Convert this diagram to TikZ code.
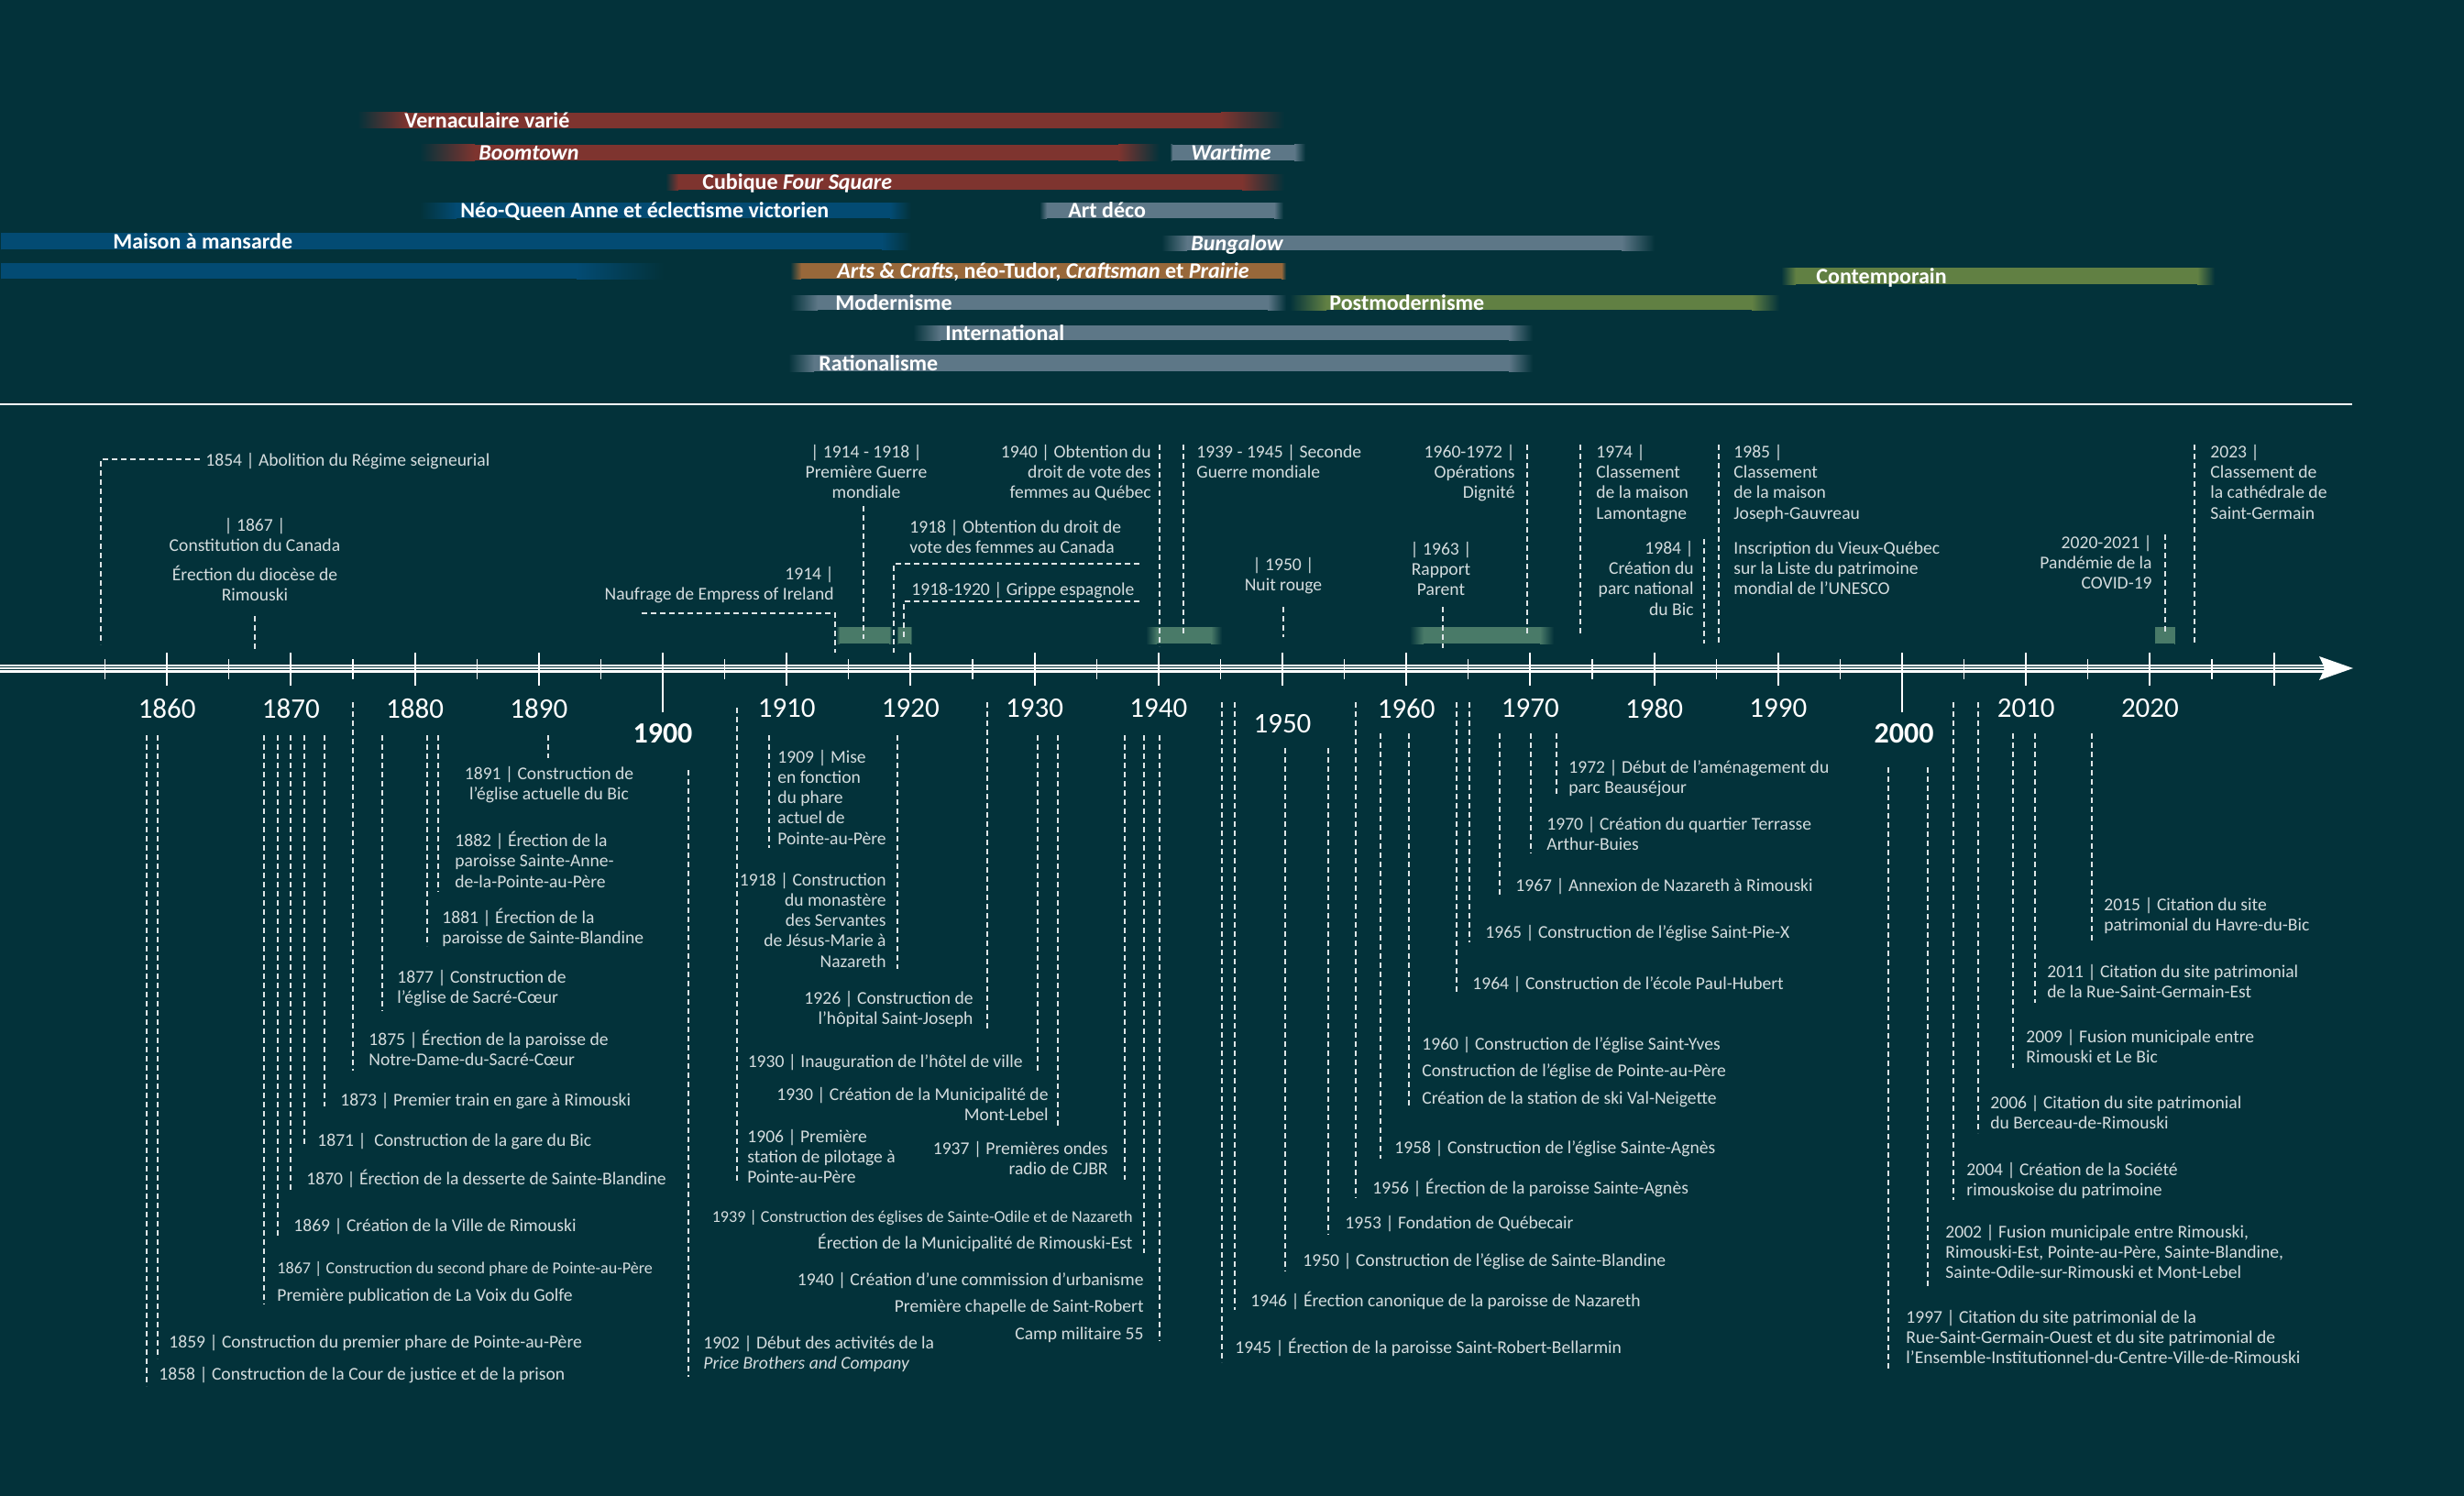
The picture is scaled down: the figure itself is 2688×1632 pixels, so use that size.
\documentclass[tikz,border=0pt]{standalone}
\usepackage{fontspec}
\setmainfont{Carlito}
\definecolor{bg}{RGB}{3,50,58}
\definecolor{barred}{RGB}{126,52,47}
\definecolor{barblue}{RGB}{3,75,115}
\definecolor{bargray}{RGB}{93,119,135}
\definecolor{barorange}{RGB}{152,104,58}
\definecolor{bargreen}{RGB}{97,128,67}
\definecolor{boxgreen}{RGB}{73,122,104}
\definecolor{txt}{RGB}{212,220,222}
\definecolor{lin}{RGB}{222,230,231}
\newcommand\evfont{\fontsize{9.8}{11.1}\selectfont}
\newcommand\evsmall{\fontsize{9.05}{11.1}\selectfont}
% bar: x1 x2 ytop ybot colour fadeL fadeR
\newcommand\tlbar[7]{%
  \fill[#5] (#1+#6-0.5,#3) rectangle (#2-#7+0.5,#4);
  \shade[left color=bg,right color=#5] (#1,#3) rectangle (#1+#6,#4);
  \shade[left color=#5,right color=bg] (#2-#7,#3) rectangle (#2,#4);}
\newcommand\ld[3]{\draw[dl] (#1,#2) -- (#1,#3);}
\begin{document}
\begin{tikzpicture}[x=0.5pt,y=-0.5pt,
  ev/.style={text=txt, inner sep=0pt, yshift=-1.5pt, font=\evfont, execute at begin node=\strut, execute at end node=\strut},
  evl/.style={ev, anchor=west, align=left},
  evr/.style={ev, anchor=east, align=right},
  evc/.style={ev, anchor=center, align=center},
  dl/.style={draw=lin, line width=0.6pt, dash pattern=on 3pt off 2pt},
  blab/.style={text=white, inner sep=0pt, anchor=base west, font=\fontsize{12}{14}\selectfont\bfseries},
  yr/.style={text=white, inner sep=0pt, anchor=center, font=\fontsize{15.5}{18}\selectfont},
  yrb/.style={text=white, inner sep=0pt, anchor=center, font=\fontsize{16}{18}\selectfont\bfseries}]
\useasboundingbox (0,0) rectangle (2688,1632);
\fill[bg] (0,0) rectangle (2688,1632);

% ---------- style bars ----------
\tlbar{390}{1401}{123}{140}{barred}{54}{69}
\node[blab] (bVern) at (441,139.5) {Vernaculaire varié};
\tlbar{458}{1265}{158}{175}{barred}{60}{45}
\node[blab] (bBoom) at (522,174.5) {\itshape Boomtown};
\tlbar{1276}{1424}{158}{175}{bargray}{3}{12}
\node[blab] (bWar) at (1299,174.5) {\itshape Wartime};
\tlbar{726}{1401}{190}{207}{barred}{14}{46}
\node[blab] (bCub) at (766,206.5) {Cubique \itshape Four Square};
\tlbar{458}{994}{221}{238}{barblue}{40}{23}
\node[blab] (bNeo) at (502,237.5) {Néo-Queen Anne et éclectisme victorien};
\tlbar{1134}{1400}{221}{238}{bargray}{8}{10}
\node[blab] (bDeco) at (1165,237.5) {Art déco};
\tlbar{0}{994}{254}{272}{barblue}{1}{32}
\node[blab] (bMais) at (123,271) {Maison à mansarde};
\tlbar{1267}{1805}{257}{273}{bargray}{28}{36}
\node[blab] (bBung) at (1299,273) {\itshape Bungalow};
\tlbar{0}{724}{287}{304}{barblue}{1}{95}
\tlbar{862}{1403}{287}{304}{barorange}{12}{5}
\node[blab] (bArts) at (913,303.5) {\itshape Arts \& Crafts\upshape, néo-Tudor, \itshape Craftsman\upshape{} et \itshape Prairie};
\tlbar{1943}{2416}{292}{310}{bargreen}{16}{19}
\node[blab] (bCont) at (1981,309) {Contemporain};
\tlbar{862}{1403}{322}{338}{bargray}{30}{20}
\node[blab] (bMod) at (911,338) {Modernisme};
\tlbar{1407}{1941}{322}{338}{bargreen}{40}{30}
\node[blab] (bPost) at (1450,338) {Postmodernisme};
\tlbar{996}{1672}{355}{371}{bargray}{30}{26}
\node[blab] (bInt) at (1031,371) {International};
\tlbar{860}{1672}{387}{405}{bargray}{28}{26}
\node[blab] (bRat) at (893,404) {Rationalisme};

% separator
\draw[white, line width=0.9pt] (0,441) -- (2566,441);

% ---------- period boxes ----------
\tlbar{912}{973}{684}{702}{boxgreen}{4}{3}
\tlbar{978}{995}{684}{702}{boxgreen}{2}{2}
\tlbar{1250}{1333}{684}{702}{boxgreen}{12}{12}
\tlbar{1538}{1695}{684}{702}{boxgreen}{15}{15}
\tlbar{2350}{2373}{684}{702}{boxgreen}{1}{1}

% ---------- events above ----------
\node[evl] (u1854) at (224,501) {1854 | Abolition du Régime seigneurial};
\draw[dl] (218,501) -- (110,501) -- (110,703);
\node[evc] (u1867a) at (278,584) {| 1867 |\\Constitution du Canada};
\node[evc] (u1867b) at (278,637) {Érection du diocèse de\\Rimouski};
\draw[dl] (278,672) -- (278,711);
\node[evc] (u1914) at (945,514.5) {| 1914 - 1918 |\\Première Guerre\\mondiale};
\draw[dl] (942,552) -- (942,697);
\node[evr] (u1914b) at (910,637) {1914 |\\Naufrage de Empress of Ireland};
\draw[dl] (700,669) -- (911,669) -- (911,712);
\node[evl] (u1918) at (992,586) {1918 | Obtention du droit de\\vote des femmes au Canada};
\draw[dl] (1243,615) -- (975,615) -- (975,712);
\node[evl] (u1918g) at (994,642) {1918-1920 | Grippe espagnole};
\draw[dl] (1243,656) -- (986,656) -- (986,697);
\node[evr] (u1940) at (1256,515) {1940 | Obtention du\\droit de vote des\\femmes au Québec};
\draw[dl] (1265,485) -- (1265,705);
\node[evl] (u1939) at (1305,504) {1939 - 1945 | Seconde\\Guerre mondiale};
\draw[dl] (1291,485) -- (1291,692);
\node[evc] (u1950) at (1400,627) {| 1950 |\\Nuit rouge};
\draw[dl] (1400,662) -- (1400,695);
\node[evc] (u1963) at (1572,621) {| 1963 |\\Rapport\\Parent};
\draw[dl] (1574,662) -- (1574,707);
\node[evr] (u1960) at (1653,515) {1960-1972 |\\Opérations\\Dignité};
\draw[dl] (1666,485) -- (1666,692);
\node[evl] (u1974) at (1741,526) {1974 |\\Classement\\de la maison\\Lamontagne};
\draw[dl] (1724,485) -- (1724,692);
\node[evr] (u1984) at (1848,631) {1984 |\\Création du\\parc national\\du Bic};
\draw[dl] (1859,588) -- (1859,702);
\node[evl] (u1985a) at (1891,526) {1985 |\\Classement\\de la maison\\Joseph-Gauvreau};
\node[evl] (u1985b) at (1891,620) {Inscription du Vieux-Québec\\sur la Liste du patrimoine\\mondial de l’UNESCO};
\draw[dl] (1875,485) -- (1875,702);
\node[evr] (u2020) at (2348,614) {2020-2021 |\\Pandémie de la\\COVID-19};
\draw[dl] (2362,583) -- (2362,692);
\node[evl] (u2023) at (2411,526) {2023 |\\Classement de\\la cathédrale de\\Saint-Germain};
\draw[dl] (2394,485) -- (2394,702);

% ---------- axis ----------
\fill[white] (0,724.5) rectangle (2536,733.5);
\draw[bg, line width=0.6pt] (0,727.5) -- (2536,727.5) (0,730.5) -- (2536,730.5);
\fill[white] (2530,716) -- (2567,729) -- (2530,742) -- (2536,729) -- cycle;
\foreach \y in {1855,1865,...,2025}
  \draw[white, line width=0.6pt] ({723+(\y-1900)*13.52},719) -- ({723+(\y-1900)*13.52},741);
\foreach \y in {1860,1870,...,2030}
  \draw[white, line width=1pt] ({723+(\y-1900)*13.52},712) -- ({723+(\y-1900)*13.52},748);
\draw[white, line width=1pt] (723,712) -- (723,777);
\draw[white, line width=1pt] (2075,712) -- (2075,777);
\foreach \y in {1860,1870,1880,1890,1910,1920,1930,1940,1960,1970,1980,1990,2010,2020}
  \node[yr] (y\y) at ({723+(\y-1900)*13.52},773) {\y};
\node[yr] (y1950) at (1399,790) {1950};
\node[yrb] (y1900) at (723,800) {1900};
\node[yrb] (y2000) at (2077,800) {2000};

% ---------- events below ----------
\ld{160}{802}{1512} \node[evl] (l1858) at (173,1498) {1858 | Construction de la Cour de justice et de la prison};
\ld{172}{802}{1482} \node[evl] (l1859) at (184,1463) {1859 | Construction du premier phare de Pointe-au-Père};
\ld{288}{802}{1423} \node[evl, font=\evsmall] (l1867a) at (302,1382) {1867 | Construction du second phare de Pointe-au-Père};
\node[evl] (l1867b) at (302,1412) {Première publication de La Voix du Golfe};
\ld{303}{802}{1350} \node[evl] (l1869) at (320,1336) {1869 | Création de la Ville de Rimouski};
\ld{317}{802}{1298} \node[evl] (l1870) at (334,1285) {1870 | Érection de la desserte de Sainte-Blandine};
\ld{332}{802}{1250} \node[evl] (l1871) at (346,1243) {1871 | \ Construction de la gare du Bic};
\ld{354}{802}{1207} \node[evl] (l1873) at (371,1199) {1873 | Premier train en gare à Rimouski};
\ld{385}{766}{1168} \node[evl] (l1875) at (402,1144) {1875 | Érection de la paroisse de\\Notre-Dame-du-Sacré-Cœur};
\ld{417}{802}{1103} \node[evl] (l1877) at (433,1077) {1877 | Construction de\\l’église de Sacré-Cœur};
\ld{466}{802}{1032} \node[evl] (l1881) at (482,1011) {1881 | Érection de la\\paroisse de Sainte-Blandine};
\ld{478}{802}{973} \node[evl] (l1882) at (496,938) {1882 | Érection de la\\paroisse Sainte-Anne-\\de-la-Pointe-au-Père};
\ld{598}{802}{827} \node[evc] (l1891) at (599,855) {1891 | Construction de\\l’église actuelle du Bic};

\ld{751}{840}{1502} \node[evl] (l1902) at (767,1476) {1902 | Début des activités de la\\\textit{Price Brothers and Company}};
\ld{804}{772}{1290} \node[evl] (l1906) at (815,1262) {1906 | Première\\station de pilotage à\\Pointe-au-Père};
\ld{839}{802}{925} \node[evl] (l1909) at (848,870) {1909 | Mise\\en fonction\\du phare\\actuel de\\Pointe-au-Père};
\ld{979}{802}{1057} \node[evr] (l1918) at (967,1004) {1918 | Construction\\du monastère\\des Servantes\\de Jésus-Marie à\\Nazareth};
\ld{1077}{766}{1125} \node[evr] (l1926) at (1062,1100) {1926 | Construction de\\l’hôpital Saint-Joseph};
\ld{1132}{802}{1170} \node[evr] (l1930a) at (1116,1157) {1930 | Inauguration de l’hôtel de ville};
\ld{1154}{802}{1228} \node[evr] (l1930b) at (1144,1205) {1930 | Création de la Municipalité de\\Mont-Lebel};
\ld{1227}{802}{1287} \node[evr] (l1937) at (1209,1264) {1937 | Premières ondes\\radio de CJBR};
\ld{1248}{802}{1367} \node[evr, font=\evsmall] (l1939a) at (1236,1326) {1939 | Construction des églises de Sainte-Odile et de Nazareth};
\node[evr] (l1939b) at (1236,1355) {Érection de la Municipalité de Rimouski-Est};
\ld{1265}{802}{1463} \node[evr] (l1940a) at (1248,1395) {1940 | Création d’une commission d’urbanisme};
\node[evr] (l1940b) at (1248,1424) {Première chapelle de Saint-Robert};
\node[evr] (l1940c) at (1248,1454) {Camp militaire 55};

\ld{1333}{766}{1486} \node[evl] (l1945) at (1347,1469) {1945 | Érection de la paroisse Saint-Robert-Bellarmin};
\ld{1347}{766}{1429} \node[evl] (l1946) at (1364,1418) {1946 | Érection canonique de la paroisse de Nazareth};
\ld{1402}{816}{1387} \node[evl] (l1950) at (1421,1374) {1950 | Construction de l’église de Sainte-Blandine};
\ld{1449}{816}{1347} \node[evl] (l1953) at (1467,1333) {1953 | Fondation de Québecair};
\ld{1479}{766}{1307} \node[evl] (l1956) at (1497,1295) {1956 | Érection de la paroisse Sainte-Agnès};
\ld{1506}{800}{1264} \node[evl] (l1958) at (1521,1251) {1958 | Construction de l’église Sainte-Agnès};
\ld{1537}{800}{1207} \node[evl] (l1960a) at (1551,1138) {1960 | Construction de l’église Saint-Yves};
\node[evl] (l1960b) at (1551,1167) {Construction de l’église de Pointe-au-Père};
\node[evl] (l1960c) at (1551,1197) {Création de la station de ski Val-Neigette};
\ld{1589}{766}{1082} \node[evl] (l1964) at (1606,1072) {1964 | Construction de l’école Paul-Hubert};
\ld{1603}{766}{1028} \node[evl] (l1965) at (1620,1016) {1965 | Construction de l’église Saint-Pie-X};
\ld{1636}{800}{976} \node[evl] (l1967) at (1653,965) {1967 | Annexion de Nazareth à Rimouski};
\ld{1670}{800}{931} \node[evl] (l1970) at (1687,910) {1970 | Création du quartier Terrasse\\Arthur-Buies};
\ld{1698}{800}{868} \node[evl] (l1972) at (1711,848) {1972 | Début de l’aménagement du\\parc Beauséjour};

\ld{2060}{837}{1495} \node[evl] (l1997) at (2079,1459) {1997 | Citation du site patrimonial de la\\Rue-Saint-Germain-Ouest et du site patrimonial de\\l’Ensemble-Institutionnel-du-Centre-Ville-de-Rimouski};
\ld{2103}{837}{1403} \node[evl] (l2002) at (2122,1366) {2002 | Fusion municipale entre Rimouski,\\Rimouski-Est, Pointe-au-Père, Sainte-Blandine,\\Sainte-Odile-sur-Rimouski et Mont-Lebel};
\ld{2131}{766}{1309} \node[evl] (l2004) at (2145,1287) {2004 | Création de la Société\\rimouskoise du patrimoine};
\ld{2158}{766}{1236} \node[evl] (l2006) at (2171,1214) {2006 | Citation du site patrimonial\\du Berceau-de-Rimouski};
\ld{2196}{800}{1165} \node[evl] (l2009) at (2210,1142) {2009 | Fusion municipale entre\\Rimouski et Le Bic};
\ld{2220}{800}{1094} \node[evl] (l2011) at (2233,1071) {2011 | Citation du site patrimonial\\de la Rue-Saint-Germain-Est};
\ld{2282}{800}{1026} \node[evl] (l2015) at (2295,998) {2015 | Citation du site\\patrimonial du Havre-du-Bic};
\end{tikzpicture}
\end{document}
